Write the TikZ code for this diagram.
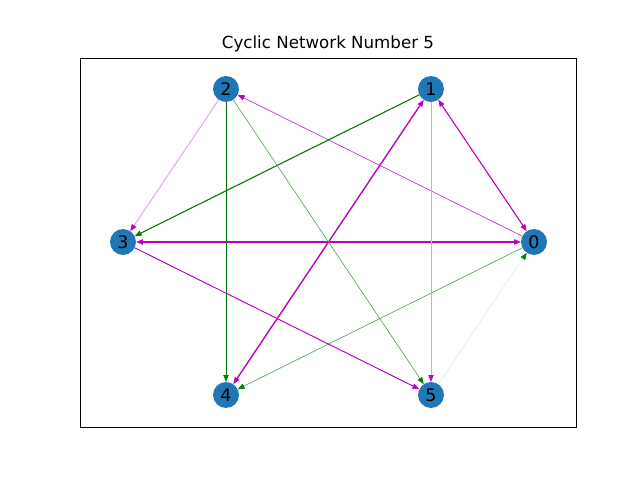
\documentclass[tikz,border=0pt]{standalone}
\usepackage{fontspec}
\setmainfont{DejaVu Sans}
\usetikzlibrary{arrows.meta,backgrounds}
\definecolor{mg}{rgb}{0.75,0,0.75}
\definecolor{gr}{rgb}{0,0.5,0}
\definecolor{nb}{HTML}{1F77B4}
\tikzset{
  vtx/.style={circle,fill=nb,draw=none,minimum size=18.7pt,inner sep=0pt,outer sep=0pt,font=\fontsize{12.5}{14}\selectfont},
  mtip/.style={-{Triangle[length=5pt,width=3.8pt,color=mg]}},
  mtips/.style={{Triangle[length=5pt,width=3.8pt,color=mg]}-{Triangle[length=5pt,width=3.8pt,color=mg]}},
  gtip/.style={-{Triangle[length=5pt,width=3.8pt,color=gr]}},
  gtips/.style={{Triangle[length=5pt,width=3.8pt,color=gr]}-{Triangle[length=5pt,width=3.8pt,color=gr]}},
}
\begin{document}
\begin{tikzpicture}[x=0.72pt,y=-0.72pt]
\useasboundingbox (0,0) rectangle (640,480);
\draw[line width=0.6pt] (80,58) rectangle (576,427);
\node (title) at (328,44) {\fontsize{12}{14}\selectfont Cyclic Network Number 5};
\node[vtx] (n0) at (534,242) {0};
\node[vtx] (n1) at (431,89) {1};
\node[vtx] (n2) at (226,89) {2};
\node[vtx] (n3) at (123,242) {3};
\node[vtx] (n4) at (226,395) {4};
\node[vtx] (n5) at (431,395) {5};
\begin{scope}[on background layer]
\draw[mtips,line width=0.8pt,draw=mg] (n0) -- (n1);
\draw[mtip,line width=0.5pt,draw=mg!80!white] (n0) -- (n2);
\draw[mtips,line width=1.0pt,draw=mg] (n0) -- (n3);
\draw[gtip,line width=0.5pt,draw=gr!65!white] (n0) -- (n4);
\draw[gtip,line width=0.5pt,draw=gr!12!white] (n5) -- (n0);
\draw[gtip,line width=0.8pt,draw=gr] (n1) -- (n3);
\draw[mtips,line width=1.0pt,draw=mg] (n1) -- (n4);
\draw[mtip,line width=0.6pt,draw=mg!40!white] (n1) -- (n5);
\draw[mtip,line width=0.6pt,draw=mg!40!white] (n2) -- (n3);
\draw[gtip,line width=0.7pt,draw=gr!90!black] (n2) -- (n4);
\draw[gtip,line width=0.5pt,draw=gr!65!white] (n2) -- (n5);
\draw[mtip,line width=0.7pt,draw=mg] (n3) -- (n5);
\end{scope}
\end{tikzpicture}
\end{document}
